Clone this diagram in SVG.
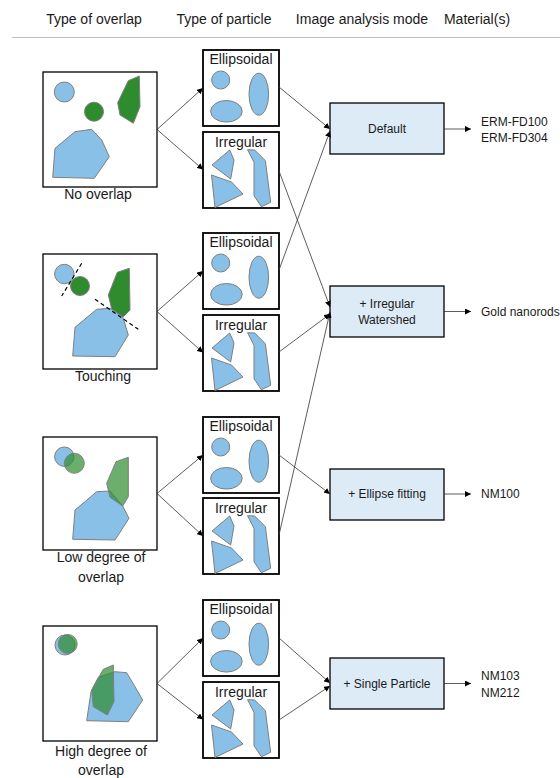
<svg xmlns="http://www.w3.org/2000/svg" width="560" height="778" viewBox="0 0 560 778">
<style>
text{font-family:"Liberation Sans",Arial,sans-serif;fill:#1a1a1a}
.hdr{font-size:14px;text-anchor:middle}
.lbl{font-size:14px;text-anchor:middle}
.plbl{font-size:14px;text-anchor:middle}
.mode{font-size:12px;text-anchor:middle}
.mat{font-size:12px}
.obox{fill:#fff;stroke:#000;stroke-width:1.3}
.pbox{fill:#fff;stroke:#000;stroke-width:1.8}
.mbox{fill:#DDEBF7;stroke:#000;stroke-width:1.3}
.blue{fill:#88C0E8;stroke:#7f7f7f;stroke-width:1}
.green{fill:#2E8B2E;stroke:#7f7f7f;stroke-width:1}
.tgreen{fill:#2E8B2E;fill-opacity:0.7;stroke:#7f7f7f;stroke-width:1}
.cut{fill:none;stroke:#000;stroke-width:1.2;stroke-dasharray:4 3}
.con{fill:none;stroke:#333;stroke-width:0.8;marker-end:url(#ah)}
</style>
<defs>
<marker id="ah" markerUnits="userSpaceOnUse" markerWidth="7" markerHeight="6" refX="6" refY="3" orient="auto">
<path d="M0,0 L6,3 L0,6 Z" fill="#000"/>
</marker>
<g id="ellShapes">
<circle class="blue" cx="17.7" cy="30" r="9"/>
<ellipse class="blue" cx="23.4" cy="61.3" rx="15.8" ry="10.8"/>
<ellipse class="blue" cx="55.8" cy="44.2" rx="9.8" ry="21"/>
</g>
<g id="irrShapes">
<polygon class="blue" points="9,33 26.7,18 31,28 27.7,47"/>
<polygon class="blue" points="8.5,43 28.5,50 40,62 12,75.5"/>
<polygon class="blue" points="44.5,17.7 51.7,18 62.4,28.7 67.7,70.3 58.4,74.7 51,63.7 51,30.3"/>
</g>
</defs>
<rect width="560" height="778" fill="#fff"/>

<g id="header">
<text class="hdr" x="94" y="24">Type of overlap</text>
<text class="hdr" x="224" y="24">Type of particle</text>
<text class="hdr" x="362" y="24">Image analysis mode</text>
<text class="hdr" x="477" y="24">Material(s)</text>
<line x1="12" y1="37.5" x2="560" y2="37.5" stroke="#bfbfbf" stroke-width="1"/>
</g>

<!-- Overlap nodes -->
<g id="no-overlap">
<rect class="obox" x="43" y="72" width="114" height="115"/>
<circle class="blue" cx="64.3" cy="92" r="10"/>
<circle class="green" cx="94" cy="111.7" r="9.5"/>
<polygon class="green" points="128.3,80.7 139.3,76 140,106.7 133.3,123.3 120,115 117.7,102.7"/>
<polygon class="blue" points="55,148.3 75,131.7 91.7,129.3 101.7,140 109.3,156.7 94.3,178.3 52.7,177.3"/>
<text class="lbl" x="98" y="199">No overlap</text>
</g>

<g id="touching">
<rect class="obox" x="43" y="254" width="114" height="115"/>
<circle class="blue" cx="64.3" cy="274" r="9.7"/>
<circle class="green" cx="80" cy="286" r="9.5"/>
<polygon class="green" points="117.3,272.3 129.3,268.3 130,310 122.7,317.3 111.7,309 108.3,295"/>
<polygon class="blue" points="75,327.3 96.7,309.3 110,308.3 122.7,316.7 128.3,335 115,356.7 72.7,356"/>
<line class="cut" x1="81.7" y1="263.3" x2="61.7" y2="296"/>
<line class="cut" x1="95" y1="299.3" x2="138.3" y2="329.3"/>
<text class="lbl" x="103" y="381">Touching</text>
</g>

<g id="low-overlap">
<rect class="obox" x="43" y="437" width="114" height="113"/>
<circle class="blue" cx="64.3" cy="456.7" r="9.7"/>
<circle class="tgreen" cx="74.3" cy="463.3" r="10"/>
<polygon class="blue" points="75,510 96.7,491.7 110,491 122.7,506 129,518.3 115,540 72.7,539.3"/>
<polygon class="tgreen" points="116,461.7 128.3,457.3 128.3,496.7 122.7,506 110,497.3 106.7,483.3"/>
<text class="lbl" x="101" y="562">Low degree of</text>
<text class="lbl" x="101" y="582">overlap</text>
</g>

<g id="high-overlap">
<rect class="obox" x="43" y="626" width="114" height="115"/>
<circle class="blue" cx="65" cy="645" r="10"/>
<circle class="tgreen" cx="67.7" cy="644" r="9.5"/>
<polygon class="blue" points="91,691.7 98.3,677.3 115,671.7 126.7,672.7 135,686.7 142.7,700 128.3,721.7 86.7,720.7"/>
<polygon class="tgreen" points="103.3,669.3 113.3,665 114,701.7 107.3,715 93.3,706.7 91.7,690"/>
<text class="lbl" x="101" y="756">High degree of</text>
<text class="lbl" x="101" y="775">overlap</text>
</g>

<!-- Particle nodes -->
<g id="ell-1"><rect class="pbox" x="203" y="50" width="76" height="76"/><use href="#ellShapes" x="203" y="50"/><text class="plbl" x="241" y="64">Ellipsoidal</text></g>
<g id="irr-1"><rect class="pbox" x="203" y="132" width="76" height="76"/><use href="#irrShapes" x="203" y="132"/><text class="plbl" x="241" y="147">Irregular</text></g>
<g id="ell-2"><rect class="pbox" x="203" y="233" width="76" height="76"/><use href="#ellShapes" x="203" y="233"/><text class="plbl" x="241" y="247">Ellipsoidal</text></g>
<g id="irr-2"><rect class="pbox" x="203" y="315" width="76" height="76"/><use href="#irrShapes" x="203" y="315"/><text class="plbl" x="241" y="330">Irregular</text></g>
<g id="ell-3"><rect class="pbox" x="203" y="417" width="76" height="76"/><use href="#ellShapes" x="203" y="417"/><text class="plbl" x="241" y="431">Ellipsoidal</text></g>
<g id="irr-3"><rect class="pbox" x="203" y="498" width="76" height="76"/><use href="#irrShapes" x="203" y="498"/><text class="plbl" x="241" y="513">Irregular</text></g>
<g id="ell-4"><rect class="pbox" x="203" y="600" width="76" height="76"/><use href="#ellShapes" x="203" y="600"/><text class="plbl" x="241" y="614">Ellipsoidal</text></g>
<g id="irr-4"><rect class="pbox" x="203" y="682" width="76" height="76"/><use href="#irrShapes" x="203" y="682"/><text class="plbl" x="241" y="697">Irregular</text></g>

<!-- Mode nodes -->
<g id="mode-default"><rect class="mbox" x="330" y="103" width="114" height="51"/><text class="mode" x="387" y="133">Default</text></g>
<g id="mode-watershed"><rect class="mbox" x="330" y="286" width="114" height="51"/><text class="mode" x="387" y="308">+ Irregular</text><text class="mode" x="387" y="324">Watershed</text></g>
<g id="mode-ellipse"><rect class="mbox" x="330" y="469" width="114" height="51"/><text class="mode" x="387" y="498">+ Ellipse fitting</text></g>
<g id="mode-single"><rect class="mbox" x="330" y="658" width="114" height="51"/><text class="mode" x="387" y="688">+ Single Particle</text></g>

<!-- Materials -->
<g id="mat-1"><text class="mat" x="481" y="126">ERM-FD100</text><text class="mat" x="481" y="142">ERM-FD304</text></g>
<g id="mat-2"><text class="mat" x="481" y="316">Gold nanorods</text></g>
<g id="mat-3"><text class="mat" x="481" y="498">NM100</text></g>
<g id="mat-4"><text class="mat" x="481" y="680">NM103</text><text class="mat" x="481" y="697">NM212</text></g>

<g id="connectors">
<line class="con" x1="157" y1="129.5" x2="203" y2="88"/>
<line class="con" x1="157" y1="129.5" x2="203" y2="169.5"/>
<line class="con" x1="157" y1="311.5" x2="203" y2="271"/>
<line class="con" x1="157" y1="311.5" x2="203" y2="352.5"/>
<line class="con" x1="157" y1="493.5" x2="203" y2="455"/>
<line class="con" x1="157" y1="493.5" x2="203" y2="536"/>
<line class="con" x1="157" y1="683.5" x2="203" y2="638"/>
<line class="con" x1="157" y1="683.5" x2="203" y2="719.5"/>

<line class="con" x1="279" y1="87" x2="330" y2="129"/>
<line class="con" x1="279" y1="171" x2="330" y2="307"/>
<line class="con" x1="279" y1="270" x2="330" y2="131"/>
<line class="con" x1="279" y1="352" x2="330" y2="314"/>
<line class="con" x1="279" y1="455" x2="330" y2="494"/>
<line class="con" x1="279" y1="535" x2="330" y2="312"/>
<line class="con" x1="279" y1="638" x2="330" y2="683"/>
<line class="con" x1="279" y1="720" x2="330" y2="686"/>

<line class="con" x1="444" y1="129" x2="471" y2="129"/>
<line class="con" x1="444" y1="311.5" x2="471" y2="311.5"/>
<line class="con" x1="444" y1="494" x2="471" y2="494"/>
<line class="con" x1="444" y1="683.5" x2="471" y2="683.5"/>
</g>
</svg>
